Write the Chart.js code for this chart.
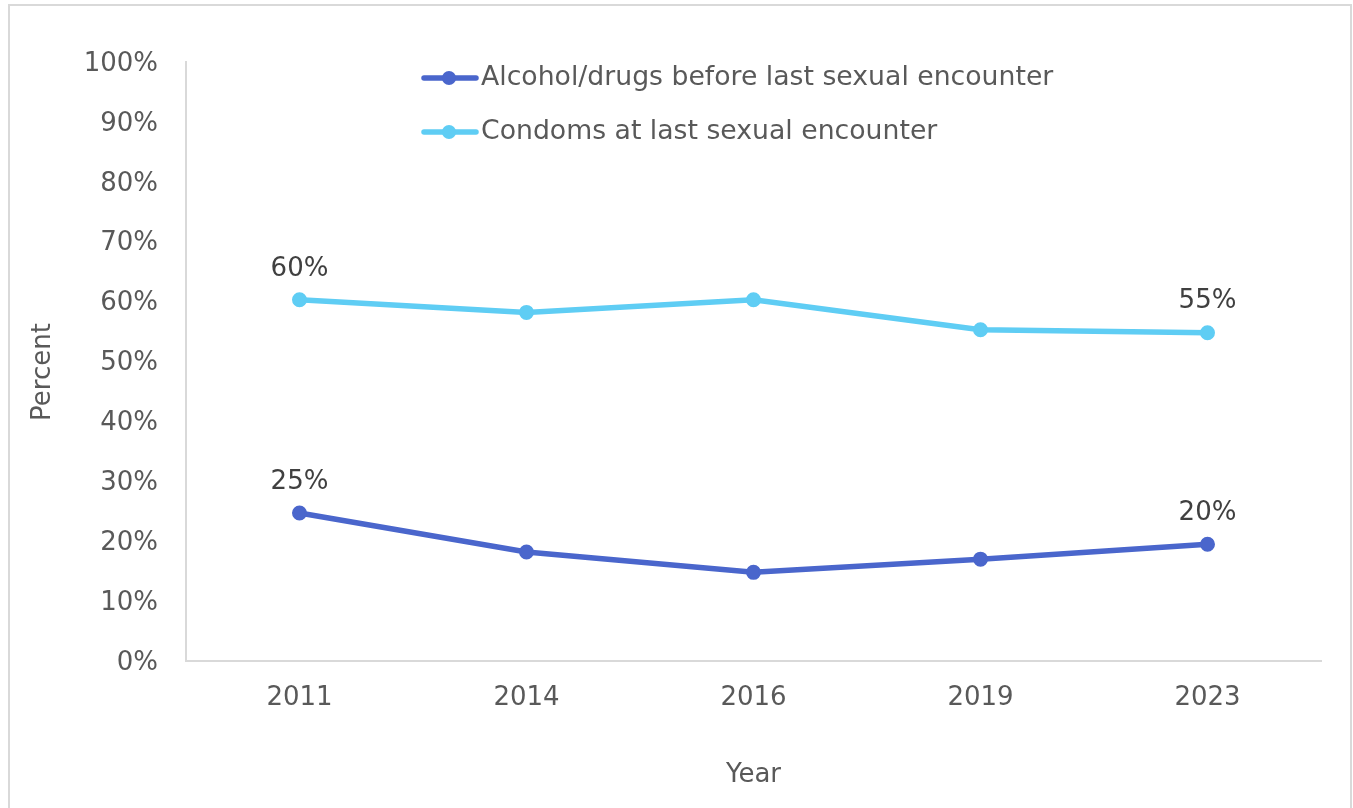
<!DOCTYPE html>
<html>
<head>
<meta charset="utf-8">
<script src="https://cdn.jsdelivr.net/npm/chart.js@4/dist/chart.umd.min.js"></script>
<style>
  html, body { margin: 0; padding: 0; background: #ffffff; }
  body { width: 1353px; height: 808px; position: relative; overflow: hidden; }
  #frame { position: absolute; left: 8px; top: 4px; width: 1340px; height: 830px; border: 2px solid #d9d9d9; }
  #wrap { position: absolute; left: 0; top: 0; width: 1353px; height: 808px; }
</style>
</head>
<body>
<div id="frame"></div>
<div id="wrap"><canvas id="c" width="1353" height="808"></canvas></div>
<script>
// ---- data ----
const years = ["2011", "2014", "2016", "2019", "2023"];
const alcoholLabel = "Alcohol/drugs before last sexual encounter";
const condomLabel = "Condoms at last sexual encounter";
const alcoholValues = [24.7, 18.2, 14.8, 17.0, 19.5];
const condomValues = [60.3, 58.2, 60.3, 55.3, 54.8];
const alcoholPointLabels = ["25%", null, null, null, "20%"];
const condomPointLabels = ["60%", null, null, null, "55%"];
const yTicks = [0, 10, 20, 30, 40, 50, 60, 70, 80, 90, 100];
const yTitle = "Percent";
const xTitle = "Year";

const FONT = "'DejaVu Sans', Verdana, sans-serif";
const ALC = "#4a66cc";
const CON = "#5fcdf4";

const pointLabelSets = [alcoholPointLabels, condomPointLabels];

const valueLabelPlugin = {
  id: 'valueLabels',
  afterDatasetsDraw(chart) {
    const ctx = chart.ctx;
    ctx.save();
    ctx.font = "26px " + FONT;
    ctx.fillStyle = "#404040";
    ctx.textAlign = "center";
    ctx.textBaseline = "middle";
    pointLabelSets.forEach((labels, di) => {
      const meta = chart.getDatasetMeta(di);
      labels.forEach((t, i) => {
        if (!t) return;
        const p = meta.data[i];
        ctx.fillText(t, p.x, p.y - 31);
      });
    });
    ctx.restore();
  }
};

const legendPlugin = {
  id: 'customLegend',
  afterDraw(chart) {
    const ctx = chart.ctx;
    ctx.save();
    const rows = [78, 132];
    chart.data.datasets.forEach((ds, i) => {
      const y = rows[i];
      ctx.strokeStyle = ds.borderColor;
      ctx.lineWidth = 5.5;
      ctx.lineCap = "round";
      ctx.beginPath();
      ctx.moveTo(424, y);
      ctx.lineTo(476, y);
      ctx.stroke();
      ctx.fillStyle = ds.borderColor;
      ctx.beginPath();
      ctx.arc(449, y, 7, 0, Math.PI * 2);
      ctx.fill();
      ctx.font = "26.7px " + FONT;
      ctx.fillStyle = "#595959";
      ctx.textAlign = "left";
      ctx.textBaseline = "middle";
      ctx.fillText(ds.label, 481, y);
    });
    // rotated y-axis title
    ctx.translate(43, 372);
    ctx.rotate(-Math.PI / 2);
    ctx.font = "26px " + FONT;
    ctx.fillStyle = "#595959";
    ctx.textAlign = "center";
    ctx.textBaseline = "middle";
    ctx.fillText(yTitle, 0, 0);
    ctx.restore();
  }
};

new Chart(document.getElementById('c'), {
  type: 'line',
  data: {
    labels: years,
    datasets: [
      {
        label: alcoholLabel,
        data: alcoholValues,
        borderColor: ALC,
        backgroundColor: ALC,
        pointBackgroundColor: ALC,
        pointBorderColor: ALC,
        borderWidth: 5.5,
        pointRadius: 6.5,
        pointBorderWidth: 2,
        tension: 0
      },
      {
        label: condomLabel,
        data: condomValues,
        borderColor: CON,
        backgroundColor: CON,
        pointBackgroundColor: CON,
        pointBorderColor: CON,
        borderWidth: 5.5,
        pointRadius: 6.5,
        pointBorderWidth: 2,
        tension: 0
      }
    ]
  },
  options: {
    responsive: false,
    animation: false,
    devicePixelRatio: 1,
    layout: { padding: { top: 62, right: 32, left: 0, bottom: 0 } },
    plugins: {
      legend: { display: false },
      tooltip: { enabled: false },
      title: { display: false }
    },
    scales: {
      x: {
        type: 'category',
        offset: true,
        grid: { display: false, drawTicks: false },
        border: { display: true, color: '#d9d9d9', width: 2 },
        ticks: { color: '#595959', font: { family: FONT, size: 26 }, padding: 22, maxRotation: 0 },
        title: { display: true, text: xTitle, color: '#595959', font: { family: FONT, size: 26 }, padding: { top: 0, bottom: 17 } },
        afterFit(scale) { scale.height = 147; scale.paddingLeft = 0; scale.paddingRight = 0; }
      },
      y: {
        min: 0,
        max: 100,
        afterBuildTicks(scale) { scale.ticks = yTicks.map(v => ({ value: v })); },
        grid: { display: false, drawTicks: false },
        border: { display: true, color: '#d9d9d9', width: 2 },
        ticks: {
          color: '#595959',
          font: { family: FONT, size: 26 },
          padding: 28,
          labelOffset: 2,
          callback: v => v + '%'
        },
        title: { display: false },
        afterFit(scale) { scale.width = 186; scale.paddingTop = 0; scale.paddingBottom = 0; }
      }
    }
  },
  plugins: [valueLabelPlugin, legendPlugin]
});
</script>
</body>
</html>
